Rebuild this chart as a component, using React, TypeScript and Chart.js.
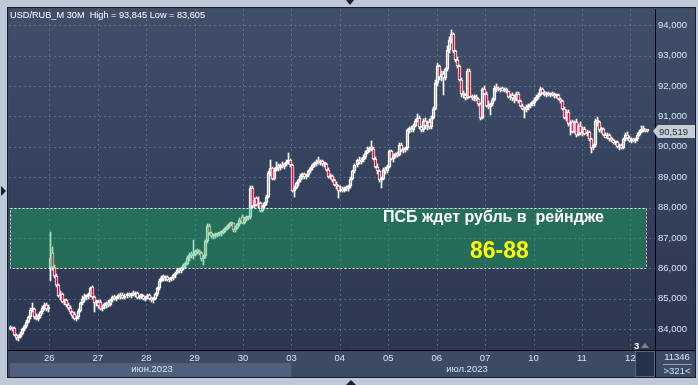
import React, { useEffect, useRef } from 'react';
import { Chart, registerables } from 'chart.js';

Chart.register(...registerables);

// ---- data: 30-minute candles [open, high, low, close] per trading day ----
const jun23 = [
  [84.05, 84.10, 83.98, 84.02], [84.02, 84.08, 83.95, 84.00], [84.05, 84.08, 83.78, 83.80], [83.80, 83.85, 83.65, 83.72],
  [83.72, 83.80, 83.61, 83.76], [83.76, 83.90, 83.70, 83.85], [83.85, 84.05, 83.80, 84.00], [84.00, 84.15, 83.95, 84.10],
  [84.10, 84.30, 84.05, 84.25], [84.25, 84.45, 84.20, 84.40], [84.40, 84.70, 84.35, 84.62], [84.62, 84.85, 84.55, 84.68],
  [84.65, 84.70, 84.35, 84.40], [84.40, 84.50, 84.30, 84.35], [84.35, 84.50, 84.28, 84.45], [84.45, 84.60, 84.38, 84.55],
  [84.55, 84.75, 84.50, 84.70], [84.70, 84.85, 84.62, 84.80], [84.80, 84.85, 84.60, 84.65], [84.65, 84.78, 84.58, 84.72],
];
const jun26 = [
  [86.00, 87.20, 85.60, 86.35], [86.50, 86.70, 85.95, 86.05], [86.05, 86.10, 85.70, 85.75], [85.75, 85.80, 85.40, 85.45],
  [85.45, 85.50, 85.05, 85.10], [85.10, 85.25, 84.95, 85.15], [85.15, 85.20, 84.85, 84.90], [84.90, 85.00, 84.80, 84.95],
  [84.95, 85.00, 84.72, 84.78], [84.78, 84.85, 84.62, 84.70], [84.70, 84.75, 84.50, 84.55], [84.55, 84.60, 84.38, 84.45],
  [84.50, 84.55, 84.30, 84.35], [84.35, 84.45, 84.28, 84.40], [84.40, 84.65, 84.35, 84.60], [84.60, 84.90, 84.55, 84.85],
  [84.85, 85.10, 84.80, 85.00], [85.00, 85.15, 84.90, 85.05], [85.05, 85.12, 84.95, 85.08], [85.08, 85.20, 85.00, 85.10],
  [85.10, 85.40, 85.05, 85.35], [85.38, 85.42, 85.00, 85.05], [85.05, 85.10, 84.55, 84.85], [84.85, 84.95, 84.75, 84.88],
];
const jun27 = [
  [84.88, 84.95, 84.70, 84.75], [84.90, 84.95, 84.62, 84.68], [84.68, 84.80, 84.60, 84.75], [84.75, 84.85, 84.68, 84.80],
  [84.80, 84.90, 84.70, 84.85], [84.85, 84.95, 84.72, 84.78], [84.78, 85.00, 84.75, 84.95], [84.95, 85.10, 84.90, 85.05],
  [85.05, 85.12, 84.95, 85.00], [85.00, 85.10, 84.92, 85.05], [85.05, 85.15, 84.98, 85.10], [85.10, 85.20, 85.00, 85.05],
  [85.12, 85.18, 84.98, 85.02], [85.02, 85.15, 84.98, 85.10], [85.10, 85.18, 85.02, 85.12], [85.12, 85.20, 85.05, 85.10],
  [85.10, 85.18, 85.02, 85.15], [85.15, 85.25, 85.08, 85.12], [85.12, 85.22, 85.05, 85.18], [85.18, 85.22, 85.00, 85.03],
  [85.03, 85.12, 84.98, 85.08], [85.08, 85.15, 85.00, 85.10], [85.10, 85.12, 84.95, 85.00], [85.00, 85.08, 84.92, 85.02],
];
const jun28 = [
  [85.02, 85.15, 84.98, 85.10], [85.12, 85.15, 84.95, 84.98], [84.98, 85.05, 84.88, 84.95], [84.95, 85.05, 84.85, 85.00],
  [85.00, 85.20, 84.95, 85.15], [85.15, 85.40, 85.10, 85.35], [85.35, 85.65, 85.30, 85.60], [85.60, 85.75, 85.55, 85.70],
  [85.70, 85.78, 85.60, 85.68], [85.68, 85.75, 85.60, 85.72], [85.72, 85.76, 85.58, 85.62], [85.62, 85.70, 85.55, 85.65],
  [85.65, 85.72, 85.60, 85.68], [85.68, 85.82, 85.62, 85.78], [85.78, 85.88, 85.70, 85.85], [85.85, 86.00, 85.80, 85.95],
  [85.95, 86.02, 85.85, 85.90], [85.90, 86.05, 85.85, 86.00], [86.00, 86.15, 85.95, 86.10], [86.10, 86.20, 86.02, 86.15],
  [86.15, 86.40, 86.10, 86.35], [86.35, 86.50, 86.25, 86.45], [86.45, 86.55, 86.35, 86.40], [86.40, 86.93, 86.30, 86.45],
];
const jun29 = [
  [86.45, 86.62, 86.40, 86.58], [86.58, 86.65, 86.48, 86.55], [86.55, 86.62, 86.45, 86.50], [86.50, 86.55, 86.25, 86.30],
  [86.30, 86.45, 86.10, 86.40], [86.40, 86.95, 86.35, 86.90], [86.90, 87.45, 86.85, 87.40], [87.40, 87.45, 87.10, 87.15],
  [87.15, 87.20, 87.00, 87.05], [87.05, 87.12, 86.98, 87.08], [87.08, 87.15, 87.00, 87.10], [87.10, 87.18, 87.02, 87.12],
  [87.12, 87.18, 87.05, 87.15], [87.15, 87.22, 87.08, 87.18], [87.18, 87.28, 87.12, 87.25], [87.25, 87.35, 87.20, 87.30],
  [87.30, 87.42, 87.25, 87.38], [87.38, 87.50, 87.32, 87.45], [87.45, 87.52, 87.38, 87.48], [87.48, 87.50, 87.20, 87.25],
  [87.25, 87.38, 87.20, 87.32], [87.32, 87.50, 87.28, 87.45], [87.45, 87.65, 87.40, 87.60], [87.70, 87.75, 87.45, 87.50],
];
const jun30 = [
  [87.50, 87.70, 87.45, 87.62], [87.62, 87.72, 87.55, 87.65], [87.65, 87.72, 87.58, 87.68], [87.68, 88.72, 87.62, 88.65],
  [88.65, 88.70, 88.00, 88.05], [88.05, 88.30, 87.98, 88.25], [88.30, 88.35, 88.05, 88.10], [88.10, 88.35, 88.00, 88.15],
  [88.15, 88.20, 87.85, 87.90], [87.90, 88.10, 87.85, 88.05], [88.05, 88.20, 87.95, 88.15], [88.15, 88.40, 88.10, 88.35],
  [88.35, 89.20, 88.30, 89.15], [89.15, 89.55, 89.05, 89.30], [89.30, 89.35, 88.90, 88.95], [88.95, 89.30, 88.90, 89.25],
  [89.25, 89.50, 89.20, 89.35], [89.35, 89.45, 89.22, 89.30], [89.30, 89.45, 89.25, 89.40], [89.40, 89.50, 89.30, 89.35],
  [89.35, 89.48, 89.28, 89.45], [89.45, 89.55, 89.38, 89.50], [89.50, 89.80, 89.42, 89.55], [89.55, 89.60, 89.35, 89.40],
];
const jul03 = [
  [89.40, 89.45, 88.50, 88.55], [88.55, 88.70, 88.35, 88.65], [88.65, 88.85, 88.60, 88.80], [88.80, 88.95, 88.70, 88.90],
  [88.90, 89.10, 88.85, 89.05], [89.05, 89.15, 88.95, 89.10], [89.10, 89.15, 88.95, 89.00], [89.00, 89.12, 88.95, 89.08],
  [89.08, 89.25, 89.02, 89.20], [89.20, 89.35, 89.15, 89.30], [89.30, 89.45, 89.25, 89.40], [89.40, 89.50, 89.35, 89.45],
  [89.45, 89.55, 89.38, 89.50], [89.50, 89.66, 89.42, 89.48], [89.48, 89.55, 89.40, 89.52], [89.52, 89.55, 89.38, 89.42],
  [89.42, 89.50, 89.35, 89.45], [89.45, 89.48, 89.20, 89.25], [89.25, 89.30, 88.98, 89.02], [89.02, 89.10, 88.95, 89.05],
  [89.05, 89.08, 88.85, 88.90], [88.90, 88.95, 88.70, 88.75], [88.75, 88.85, 88.62, 88.70], [88.70, 88.75, 88.30, 88.55],
];
const jul04 = [
  [88.55, 88.70, 88.50, 88.62], [88.62, 88.68, 88.52, 88.56], [88.56, 88.68, 88.52, 88.64], [88.64, 88.70, 88.55, 88.60],
  [88.60, 88.75, 88.55, 88.70], [88.70, 89.00, 88.65, 88.95], [88.95, 89.25, 88.90, 89.20], [89.20, 89.45, 89.15, 89.40],
  [89.40, 89.60, 89.35, 89.55], [89.55, 89.65, 89.45, 89.50], [89.50, 89.62, 89.45, 89.58], [89.58, 89.72, 89.50, 89.68],
  [89.68, 89.85, 89.60, 89.80], [89.80, 89.98, 89.75, 89.90], [89.90, 90.00, 89.82, 89.95], [89.95, 90.20, 89.85, 89.92],
  [89.92, 89.98, 89.55, 89.60], [89.60, 89.65, 89.30, 89.35], [89.35, 89.45, 89.10, 89.20], [89.20, 89.25, 88.85, 88.90],
  [88.90, 89.00, 88.65, 88.95], [88.95, 89.30, 88.90, 89.25], [89.25, 89.35, 89.10, 89.20], [89.20, 89.40, 89.15, 89.35],
];
const jul05 = [
  [89.35, 89.90, 89.30, 89.85], [89.85, 89.90, 89.55, 89.60], [89.60, 89.75, 89.50, 89.70], [89.70, 89.80, 89.62, 89.75],
  [89.75, 89.82, 89.65, 89.72], [89.72, 90.12, 89.70, 90.05], [90.05, 90.12, 89.82, 89.88], [89.88, 89.95, 89.80, 89.90],
  [89.90, 90.00, 89.82, 89.95], [89.95, 90.60, 89.90, 90.55], [90.55, 90.65, 90.45, 90.60], [90.60, 90.68, 90.48, 90.55],
  [90.55, 90.75, 90.50, 90.70], [90.70, 90.90, 90.65, 90.85], [90.85, 91.08, 90.80, 90.95], [90.95, 91.00, 90.60, 90.65],
  [90.65, 90.70, 90.50, 90.55], [90.55, 90.90, 90.50, 90.85], [90.85, 90.95, 90.60, 90.70], [90.70, 90.85, 90.55, 90.80],
  [90.80, 90.90, 90.58, 90.65], [90.65, 91.00, 90.60, 90.95], [90.95, 91.30, 90.90, 91.25], [91.25, 92.20, 91.20, 92.10],
];
const jul06 = [
  [92.10, 92.75, 92.00, 92.65], [92.65, 92.70, 92.20, 92.30], [92.30, 92.50, 92.15, 92.40], [92.40, 92.48, 91.70, 92.25],
  [92.25, 92.60, 92.20, 92.55], [92.55, 93.30, 92.50, 93.20], [93.20, 93.60, 93.10, 93.50], [93.50, 93.845, 93.40, 93.70],
  [93.70, 93.75, 93.10, 93.15], [93.15, 93.20, 92.80, 92.85], [92.85, 92.95, 92.60, 92.65], [92.65, 92.70, 92.15, 92.20],
  [92.20, 92.25, 91.65, 91.75], [91.75, 91.85, 91.60, 91.70], [91.70, 91.75, 91.55, 91.62], [91.62, 92.55, 91.58, 92.50],
  [92.50, 92.55, 91.60, 91.65], [91.65, 91.72, 91.55, 91.60], [91.60, 91.70, 91.52, 91.65], [91.65, 91.70, 91.50, 91.58],
  [91.58, 91.62, 91.35, 91.40], [91.40, 91.45, 90.88, 90.95], [90.95, 91.95, 90.90, 91.90], [91.90, 92.00, 91.70, 91.75],
];
const jul07 = [
  [91.75, 91.80, 91.30, 91.35], [91.35, 91.50, 91.25, 91.30], [91.30, 91.45, 91.04, 91.40], [91.40, 91.60, 91.35, 91.55],
  [91.55, 92.00, 91.50, 91.95], [91.95, 92.05, 91.80, 91.90], [91.90, 91.98, 91.82, 91.88], [91.88, 91.95, 91.80, 91.92],
  [91.92, 91.98, 91.82, 91.85], [91.85, 91.95, 91.80, 91.90], [91.90, 91.95, 91.78, 91.82], [91.82, 91.85, 91.62, 91.65],
  [91.65, 91.75, 91.55, 91.70], [91.70, 91.78, 91.50, 91.60], [91.60, 91.70, 91.45, 91.55], [91.55, 91.80, 91.50, 91.75],
  [91.75, 91.80, 91.45, 91.50], [91.50, 91.55, 91.30, 91.35], [91.35, 91.40, 91.20, 91.25], [91.25, 91.32, 90.95, 91.20],
  [91.20, 91.38, 91.15, 91.30], [91.30, 91.40, 91.22, 91.35], [91.35, 91.45, 91.28, 91.40], [91.40, 91.50, 91.35, 91.45],
];
const jul10 = [
  [91.45, 91.60, 91.35, 91.55], [91.55, 91.70, 91.50, 91.65], [91.65, 91.78, 91.58, 91.72], [91.72, 91.97, 91.68, 91.90],
  [91.90, 91.95, 91.75, 91.78], [91.78, 91.82, 91.68, 91.72], [91.72, 91.80, 91.65, 91.75], [91.75, 91.80, 91.66, 91.70],
  [91.70, 91.78, 91.64, 91.74], [91.74, 91.80, 91.66, 91.70], [91.70, 91.76, 91.62, 91.68], [91.68, 91.75, 91.60, 91.72],
  [91.72, 91.75, 91.55, 91.58], [91.58, 91.62, 91.45, 91.50], [91.50, 91.55, 91.20, 91.25], [91.25, 91.30, 90.90, 90.95],
  [90.95, 91.20, 90.85, 91.15], [91.15, 91.20, 90.70, 90.75], [90.75, 90.85, 90.40, 90.80], [90.80, 90.88, 90.45, 90.50],
  [90.50, 90.85, 90.45, 90.80], [90.80, 90.90, 90.32, 90.38], [90.38, 90.75, 90.35, 90.70], [90.70, 90.82, 90.40, 90.45],
];
const jul11 = [
  [90.45, 90.65, 90.35, 90.60], [90.60, 90.65, 90.38, 90.42], [90.42, 90.55, 90.35, 90.50], [90.50, 90.52, 90.20, 90.25],
  [90.25, 90.30, 89.80, 89.95], [89.95, 90.10, 89.90, 90.05], [90.05, 90.90, 90.00, 90.85], [90.85, 90.98, 90.70, 90.80],
  [90.80, 90.85, 90.50, 90.55], [90.55, 90.65, 90.45, 90.60], [90.60, 90.62, 90.35, 90.40], [90.40, 90.45, 90.28, 90.30],
  [90.30, 90.45, 90.25, 90.40], [90.40, 90.42, 90.20, 90.25], [90.25, 90.32, 90.15, 90.22], [90.22, 90.25, 90.10, 90.12],
  [90.12, 90.20, 90.05, 90.15], [90.15, 90.18, 89.95, 90.00], [90.00, 90.10, 89.88, 90.05], [90.05, 90.08, 89.92, 89.96],
  [89.96, 90.30, 89.92, 90.25], [90.25, 90.45, 90.20, 90.40], [90.40, 90.48, 90.22, 90.30], [90.30, 90.35, 90.15, 90.18],
];
const jul12 = [
  [90.18, 90.30, 90.12, 90.22], [90.22, 90.30, 90.15, 90.20], [90.20, 90.28, 90.14, 90.25], [90.25, 90.45, 90.20, 90.40],
  [90.40, 90.55, 90.35, 90.50], [90.50, 90.68, 90.45, 90.60], [90.60, 90.70, 90.50, 90.55], [90.55, 90.60, 90.48, 90.52],
  [90.52, 90.56, 90.48, 90.519],
];

const sessions = [jun23, jun26, jun27, jun28, jun29, jun30, jul03, jul04, jul05, jul06, jul07, jul10, jul11, jul12];
const dayLabels = ['26', '27', '28', '29', '30', '03', '04', '05', '06', '07', '10', '11', '12'];
const monthLabels = ['июн.2023', 'июл.2023'];
const yTickValues = [84, 85, 86, 87, 88, 89, 90, 91, 92, 93, 94];
const lastPrice = 90.519;
const rangeLow = 86;
const rangeHigh = 88;
const barsPerDay = 24;

const FONT = "'Liberation Sans', Arial, Helvetica, sans-serif";
const RED = 'rgb(226,10,52)';
const TICK_COLOR = 'rgb(214,226,244)';
const GRID_COLOR = 'rgba(112,130,166,0.6)';

const candles = sessions.flat();
const firstDayStart = jun23.length; // index of first bar of 26.06
const dayTickValues = dayLabels.map((_, d) => firstDayStart + d * barsPerDay - 0.5);
const rangeStartBar = 0;
const rangeEndBar = candles.length - 2;

const fmt = (v: number) => v.toFixed(3).replace('.', ',');

const framePlugin = {
  id: 'frame',
  beforeDraw(chart: any) {
    const { ctx, chartArea: a, width, height } = chart;
    const right = a.right + 40;
    const bottom = a.bottom + 27;
    ctx.save();
    ctx.fillStyle = 'rgb(190,200,214)';
    ctx.fillRect(0, 0, width, height);
    ctx.fillStyle = 'rgb(60,74,100)';
    ctx.fillRect(a.left - 1, a.top - 1, right - a.left + 1, bottom - a.top + 1);
    const g = ctx.createLinearGradient(0, a.top, 0, a.bottom);
    g.addColorStop(0, 'rgb(64,78,106)');
    g.addColorStop(1, 'rgb(43,54,80)');
    ctx.fillStyle = g;
    ctx.fillRect(a.left, a.top, right - a.left, a.bottom - a.top);
    // June month band
    const xs = chart.scales.x;
    const bandR = xs.getPixelForValue(dayTickValues[5]);
    ctx.fillStyle = 'rgb(80,96,124)';
    ctx.fillRect(a.left + 1, a.bottom + 13, bandR - a.left - 1, 14);
    // scroll box
    ctx.fillStyle = 'rgb(38,49,74)';
    ctx.fillRect(a.right - 20, a.bottom + 1, 20, 26);
    ctx.strokeStyle = 'rgb(90,104,130)';
    ctx.strokeRect(a.right - 19.5, a.bottom + 1.5, 19, 25);
    ctx.restore();
  },
  beforeDatasetsDraw(chart: any) {
    const { ctx, chartArea: a } = chart;
    const xs = chart.scales.x;
    const ys = chart.scales.y;
    // dashed grid
    ctx.save();
    ctx.strokeStyle = GRID_COLOR;
    ctx.lineWidth = 1;
    ctx.setLineDash([2, 3]);
    ctx.beginPath();
    xs.ticks.forEach((t: any) => {
      const px = Math.round(xs.getPixelForValue(t.value)) + 0.5;
      ctx.moveTo(px, a.top);
      ctx.lineTo(px, a.bottom);
    });
    ys.ticks.forEach((t: any) => {
      const py = Math.round(ys.getPixelForValue(t.value)) + 0.5;
      ctx.moveTo(a.left, py);
      ctx.lineTo(a.right, py);
    });
    ctx.stroke();
    ctx.restore();
    // snap candle elements to whole pixels so they render crisp
    chart.data.datasets.forEach((_: any, i: number) => {
      const meta = chart.getDatasetMeta(i);
      meta.data.forEach((el: any) => {
        el.x = Math.floor(el.x) + 0.5;
        el.y = Math.round(el.y);
        el.base = Math.round(el.base);
      });
    });
  },
  afterDatasetsDraw(chart: any) {
    const { ctx } = chart;
    const xs = chart.scales.x;
    const ys = chart.scales.y;
    const x1 = Math.round(xs.getPixelForValue(rangeStartBar));
    const x2 = Math.round(xs.getPixelForValue(rangeEndBar));
    const y1 = Math.round(ys.getPixelForValue(rangeHigh));
    const y2 = Math.round(ys.getPixelForValue(rangeLow));
    ctx.save();
    ctx.fillStyle = 'rgba(20,180,92,0.4)';
    ctx.fillRect(x1, y1, x2 - x1, y2 - y1);
    ctx.strokeStyle = 'rgba(255,255,255,0.95)';
    ctx.lineWidth = 1;
    ctx.setLineDash([2, 2]);
    ctx.strokeRect(x1 + 0.5, y1 + 0.5, x2 - x1, y2 - y1);
    ctx.restore();
  },
  afterDraw(chart: any) {
    const { ctx, chartArea: a } = chart;
    const right = a.right + 40;
    const bottom = a.bottom + 27;
    const ys = chart.scales.y;
    ctx.save();
    ctx.strokeStyle = '#000';
    ctx.lineWidth = 1;
    ctx.beginPath();
    ctx.moveTo(a.right + 0.5, a.top);
    ctx.lineTo(a.right + 0.5, bottom);
    ctx.moveTo(a.left - 1, a.bottom + 0.5);
    ctx.lineTo(right, a.bottom + 0.5);
    ctx.stroke();
    ctx.strokeStyle = 'rgb(22,28,40)';
    ctx.strokeRect(a.left - 1.5, a.top - 1.5, right - a.left + 2, bottom - a.top + 2);
    // last price marker
    const py = Math.round(ys.getPixelForValue(lastPrice));
    ctx.fillStyle = 'rgb(200,205,213)';
    ctx.beginPath();
    ctx.moveTo(a.right - 2, py);
    ctx.lineTo(a.right + 3, py - 6);
    ctx.lineTo(right, py - 6);
    ctx.lineTo(right, py + 7);
    ctx.lineTo(a.right + 3, py + 7);
    ctx.closePath();
    ctx.fill();
    ctx.fillStyle = 'rgb(30,38,58)';
    ctx.font = `9.5px ${FONT}`;
    ctx.textBaseline = 'middle';
    ctx.textAlign = 'left';
    ctx.fillText(fmt(lastPrice), a.right + 4, py + 1);
    ctx.restore();
  },
};

export default function App() {
  const ref = useRef<HTMLCanvasElement>(null);

  useEffect(() => {
    const canvas = ref.current;
    if (!canvas) return;
    const bodies = candles.map((c, k) => ({ x: k, y: [c[0], c[3]] }));
    const upper = candles.map((c, k) => ({ x: k, y: [Math.max(c[0], c[3]), c[1]] }));
    const lower = candles.map((c, k) => ({ x: k, y: [c[2], Math.min(c[0], c[3])] }));
    const chart = new Chart(canvas, {
      type: 'bar',
      data: {
        datasets: [
          {
            data: bodies as any,
            backgroundColor: candles.map((c) => (c[3] < c[0] ? RED : 'rgba(0,0,0,0)')),
            borderColor: '#ffffff',
            borderWidth: 1,
            borderSkipped: false,
            barThickness: 3,
            minBarLength: 2,
            grouped: false,
          } as any,
          {
            data: upper as any,
            backgroundColor: '#ffffff',
            borderWidth: 0,
            barThickness: 1,
            grouped: false,
          } as any,
          {
            data: lower as any,
            backgroundColor: '#ffffff',
            borderWidth: 0,
            barThickness: 1,
            grouped: false,
          } as any,
        ],
      },
      options: {
        responsive: false,
        devicePixelRatio: 1,
        animation: false,
        events: [],
        layout: { padding: { left: 9, top: 9, right: 3, bottom: 8 } },
        plugins: { legend: { display: false }, tooltip: { enabled: false }, title: { display: false } },
        scales: {
          x: {
            type: 'linear',
            position: 'bottom',
            bounds: 'data',
            offset: false,
            min: -0.4957,
            max: 319.7,
            afterBuildTicks: (s: any) => {
              s.ticks = dayTickValues.map((v) => ({ value: v }));
            },
            afterFit: (s: any) => {
              s.height = 27;
            },
            ticks: {
              autoSkip: false,
              maxRotation: 0,
              padding: 3,
              color: TICK_COLOR,
              font: { family: FONT, size: 9.5 },
              callback: (_v: any, i: number) => dayLabels[i],
            },
            grid: { display: false, drawTicks: false, offset: false },
            border: { display: false },
          } as any,
          y: {
            type: 'linear',
            position: 'right',
            bounds: 'data',
            min: 83.316,
            max: 94.533,
            afterBuildTicks: (s: any) => {
              s.ticks = yTickValues.map((v) => ({ value: v }));
            },
            afterFit: (s: any) => {
              s.width = 40;
            },
            ticks: {
              padding: 3,
              color: TICK_COLOR,
              font: { family: FONT, size: 9.5 },
              callback: (v: any) => fmt(Number(v)),
            },
            grid: { display: false, drawTicks: false },
            border: { display: false },
          } as any,
        },
      },
      plugins: [framePlugin],
    });
    return () => chart.destroy();
  }, []);

  const tri = (style: React.CSSProperties) => <div style={{ position: 'absolute', width: 0, height: 0, ...style }} />;

  return (
    <div style={{ position: 'fixed', left: 0, top: 0, width: 698, height: 385, overflow: 'hidden', fontFamily: FONT }}>
      <canvas ref={ref} width={698} height={385} style={{ position: 'absolute', left: 0, top: 0, width: 698, height: 385 }} />
      <div style={{ position: 'absolute', left: 10, top: 9, fontSize: 9.2, lineHeight: '12px', color: '#ffffff', whiteSpace: 'pre' }}>
        USD/RUB_M 30M  High = 93,845 Low = 83,605
      </div>
      <div style={{ position: 'absolute', left: 383, top: 209, fontSize: 16, lineHeight: '16px', fontWeight: 'bold', color: '#ffffff', whiteSpace: 'pre' }}>
        ПСБ ждет рубль в  рейндже
      </div>
      <div style={{ position: 'absolute', left: 470, top: 239, fontSize: 23, lineHeight: '23px', fontWeight: 'bold', color: '#ffff00', whiteSpace: 'pre' }}>
        86-88
      </div>
      <div style={{ position: 'absolute', left: 102, width: 100, top: 362, textAlign: 'center', fontSize: 9.5, lineHeight: '13px', color: TICK_COLOR }}>
        {monthLabels[0]}
      </div>
      <div style={{ position: 'absolute', left: 417, width: 100, top: 362, textAlign: 'center', fontSize: 9.5, lineHeight: '13px', color: TICK_COLOR }}>
        {monthLabels[1]}
      </div>
      <div style={{ position: 'absolute', left: 657, width: 40, top: 351, textAlign: 'center', fontSize: 9.5, lineHeight: '12px', color: TICK_COLOR }}>
        11346
      </div>
      <div style={{ position: 'absolute', left: 663, width: 29, top: 364, height: 1, background: 'rgb(150,162,184)' }} />
      <div style={{ position: 'absolute', left: 657, width: 40, top: 365, textAlign: 'center', fontSize: 9.5, lineHeight: '12px', color: TICK_COLOR }}>
        {'>321<'}
      </div>
      <div style={{ position: 'absolute', left: 634, top: 340, fontSize: 9.5, lineHeight: '11px', color: '#ffffff', fontWeight: 'bold' }}>
        3
      </div>
      {tri({ left: 641, top: 343, borderLeft: '4px solid transparent', borderRight: '4px solid transparent', borderBottom: '5px solid rgb(120,132,155)' })}
      {tri({ left: 346, top: 0, borderLeft: '4px solid transparent', borderRight: '4px solid transparent', borderTop: '5px solid #1a1f2a' })}
      {tri({ left: 346, top: 380, borderLeft: '5px solid transparent', borderRight: '5px solid transparent', borderBottom: '5px solid #1a1f2a' })}
      {tri({ left: 1, top: 186, borderTop: '5px solid transparent', borderBottom: '5px solid transparent', borderLeft: '5px solid #1a1f2a' })}
    </div>
  );
}
